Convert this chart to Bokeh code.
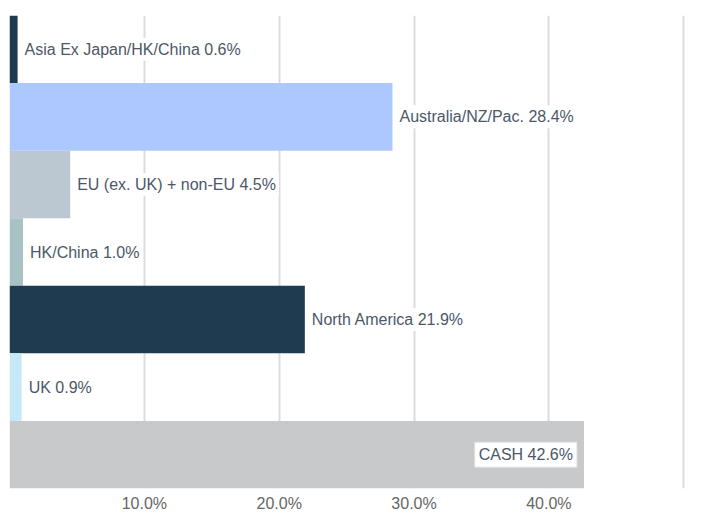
from bokeh.plotting import figure
from bokeh.models import ColumnDataSource, FactorRange, Range1d, FixedTicker, CustomJSTickFormatter
from bokeh.core.properties import value
from bokeh.embed import file_html
from bokeh.resources import INLINE

categories = ["Asia Ex Japan/HK/China", "Australia/NZ/Pac.", "EU (ex. UK) + non-EU",
              "HK/China", "North America", "UK", "CASH"]
values = [0.6, 28.4, 4.5, 1.0, 21.9, 0.9, 42.6]
colors = ["#1f3b4f", "#adc8ff", "#bcc8d1", "#a8c1c5", "#1f3b4f", "#c5e9f6", "#c8c9cb"]
tick_values = [10, 20, 30, 40]
grid_values = [10, 20, 30, 40, 50]

labels = [f"{c} {v:.1f}%" for c, v in zip(categories, values)]
inside = [c == "CASH" for c in categories]

src_out = ColumnDataSource(dict(
    y=[c for c, i in zip(categories, inside) if not i],
    x=[v for v, i in zip(values, inside) if not i],
    t=[l for l, i in zip(labels, inside) if not i]))
src_in = ColumnDataSource(dict(
    y=[c for c, i in zip(categories, inside) if i],
    x=[v for v, i in zip(values, inside) if i],
    t=[l for l, i in zip(labels, inside) if i]))
src = ColumnDataSource(dict(y=categories, x=values, c=colors))

p = figure(width=707, height=514, output_backend="svg", toolbar_location=None,
           y_range=FactorRange(factors=list(reversed(categories)), range_padding=0),
           x_range=Range1d(0, 50.5))
p.min_border_left = 9
p.min_border_right = 17
p.min_border_top = 15
p.min_border_bottom = 0
p.outline_line_color = None
p.background_fill_color = "white"
p.border_fill_color = "white"

p.hbar(y="y", right="x", left=0, height=1.0, fill_color="c", line_color=None, source=src)

p.yaxis.visible = False
p.ygrid.visible = False
p.xgrid.ticker = FixedTicker(ticks=grid_values)
p.xgrid.grid_line_color = "#dcdcdc"
p.xgrid.grid_line_width = 2
p.xgrid.level = "underlay"

p.xaxis.ticker = FixedTicker(ticks=tick_values)
p.xaxis.formatter = CustomJSTickFormatter(code="return tick.toFixed(1) + '%';")
p.xaxis.axis_line_color = None
p.xaxis.major_tick_line_color = None
p.xaxis.major_tick_out = 0
p.xaxis.major_tick_in = 0
p.xaxis.minor_tick_line_color = None
p.xaxis.minor_tick_out = 0
p.xaxis.major_label_text_font = "Liberation Sans"
p.xaxis.major_label_text_font_size = "16px"
p.xaxis.major_label_text_color = "#666666"
p.xaxis.major_label_standoff = 6

p.text(x="x", y="y", text="t", source=src_out, x_offset=4,
       text_align="left", text_baseline="middle",
       text_font=value("Liberation Sans"), text_font_size="16px", text_color="#4b5868",
       background_fill_color="white", padding=3)
p.text(x="x", y="y", text="t", source=src_in, x_offset=-7,
       text_align="right", text_baseline="middle",
       text_font=value("Liberation Sans"), text_font_size="16px", text_color="#4b5868",
       background_fill_color="white", border_line_color="#e0e0e0", padding=4)

open("out.html", "w").write(file_html(p, INLINE))
